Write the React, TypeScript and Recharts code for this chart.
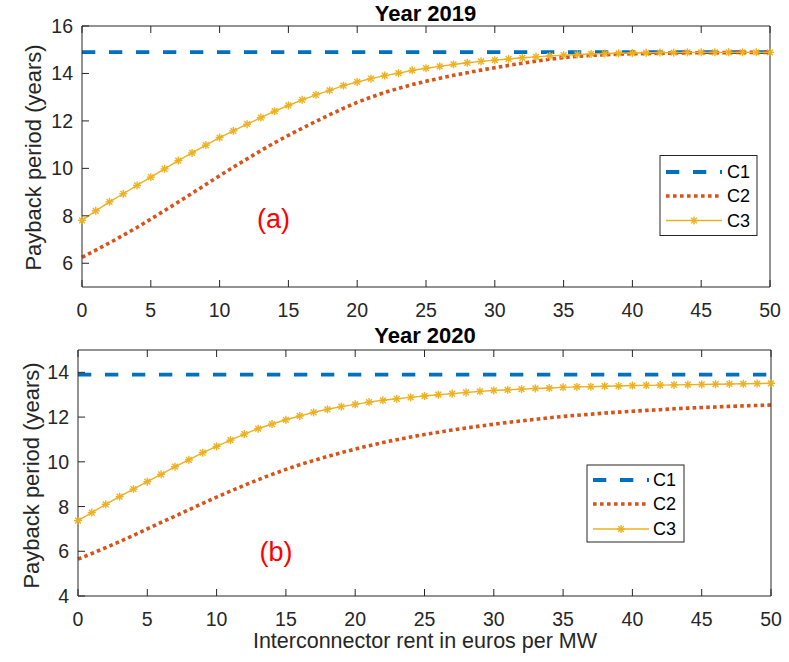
import React from "react";
import { Line, LineChart, XAxis, YAxis } from "recharts";

// interconnector rent (euros per MW)
const rent = [
  0, 1, 2, 3, 4, 5, 6, 7, 8, 9, 10, 11, 12, 13, 14, 15, 16, 17, 18, 19, 20,
  21, 22, 23, 24, 25, 26, 27, 28, 29, 30, 31, 32, 33, 34, 35, 36, 37, 38, 39,
  40, 41, 42, 43, 44, 45, 46, 47, 48, 49, 50,
];

// payback period (years), year 2019
const c1_2019 = [
  14.9, 14.9, 14.9, 14.9, 14.9, 14.9, 14.9, 14.9, 14.9, 14.9, 14.9, 14.9, 14.9,
  14.9, 14.9, 14.9, 14.9, 14.9, 14.9, 14.9, 14.9, 14.9, 14.9, 14.9, 14.9, 14.9,
  14.9, 14.9, 14.9, 14.9, 14.9, 14.9, 14.9, 14.9, 14.9, 14.9, 14.9, 14.9, 14.9,
  14.9, 14.9, 14.9, 14.9, 14.9, 14.9, 14.9, 14.9, 14.9, 14.9, 14.9, 14.9,
];
const c2_2019 = [
  6.25, 6.55, 6.86, 7.18, 7.51, 7.86, 8.22, 8.58, 8.95, 9.32, 9.69, 10.05,
  10.4, 10.75, 11.08, 11.39, 11.69, 11.98, 12.26, 12.53, 12.78, 13.0, 13.2,
  13.37, 13.53, 13.67, 13.8, 13.92, 14.03, 14.14, 14.24, 14.34, 14.43, 14.52,
  14.6, 14.67, 14.72, 14.76, 14.79, 14.81, 14.83, 14.84, 14.85, 14.86, 14.87,
  14.87, 14.88, 14.88, 14.89, 14.89, 14.89,
];
const c3_2019 = [
  7.81, 8.21, 8.59, 8.93, 9.28, 9.63, 9.98, 10.33, 10.65, 10.98, 11.3, 11.58,
  11.86, 12.14, 12.41, 12.65, 12.89, 13.1, 13.29, 13.49, 13.64, 13.78, 13.91,
  14.01, 14.13, 14.22, 14.3, 14.38, 14.45, 14.51, 14.56, 14.61, 14.66, 14.7,
  14.74, 14.77, 14.8, 14.82, 14.84, 14.85, 14.86, 14.87, 14.88, 14.88, 14.89,
  14.89, 14.89, 14.89, 14.89, 14.89, 14.89,
];

// payback period (years), year 2020
const c1_2020 = [
  13.9, 13.9, 13.9, 13.9, 13.9, 13.9, 13.9, 13.9, 13.9, 13.9, 13.9, 13.9, 13.9,
  13.9, 13.9, 13.9, 13.9, 13.9, 13.9, 13.9, 13.9, 13.9, 13.9, 13.9, 13.9, 13.9,
  13.9, 13.9, 13.9, 13.9, 13.9, 13.9, 13.9, 13.9, 13.9, 13.9, 13.9, 13.9, 13.9,
  13.9, 13.9, 13.9, 13.9, 13.9, 13.9, 13.9, 13.9, 13.9, 13.9, 13.9, 13.9,
];
const c2_2020 = [
  5.65, 5.9, 6.16, 6.43, 6.71, 7.0, 7.29, 7.57, 7.86, 8.14, 8.42, 8.69, 8.95,
  9.2, 9.44, 9.66, 9.87, 10.06, 10.24, 10.41, 10.57, 10.72, 10.86, 10.99,
  11.11, 11.22, 11.32, 11.42, 11.51, 11.6, 11.68, 11.76, 11.83, 11.9, 11.97,
  12.03, 12.08, 12.13, 12.18, 12.22, 12.26, 12.3, 12.33, 12.37, 12.4, 12.43,
  12.45, 12.48, 12.5, 12.52, 12.54,
];
const c3_2020 = [
  7.37, 7.73, 8.1, 8.44, 8.78, 9.11, 9.44, 9.78, 10.09, 10.41, 10.69, 10.97,
  11.24, 11.48, 11.69, 11.88, 12.05, 12.21, 12.35, 12.47, 12.57, 12.67, 12.75,
  12.82, 12.88, 12.94, 13.0, 13.05, 13.1, 13.15, 13.19, 13.22, 13.25, 13.28,
  13.3, 13.33, 13.35, 13.36, 13.38, 13.39, 13.41, 13.42, 13.43, 13.44, 13.45,
  13.46, 13.47, 13.48, 13.49, 13.5, 13.51,
];

const xTicks = [0, 5, 10, 15, 20, 25, 30, 35, 40, 45, 50];
const yTicks2019 = [6, 8, 10, 12, 14, 16];
const yTicks2020 = [4, 6, 8, 10, 12, 14];
const seriesNames = ["C1", "C2", "C3"];

const data2019 = rent.map((r, i) => ({
  rent: r,
  C1: c1_2019[i],
  C2: c2_2019[i],
  C3: c3_2019[i],
}));
const data2020 = rent.map((r, i) => ({
  rent: r,
  C1: c1_2020[i],
  C2: c2_2020[i],
  C3: c3_2020[i],
}));

const FONT = "'Liberation Sans', Arial, Helvetica, sans-serif";
const AX = "#262626";
const BLUE = "#0072BD";
const ORANGE = "#D95319";
const YELLOW = "#EDB120";

const BottomTick = (p: any) => (
  <g>
    <line x1={p.x} x2={p.x} y1={p.y} y2={p.y - 7} stroke={AX} />
    <text
      x={p.x}
      y={p.y + 22.5}
      textAnchor="middle"
      dominantBaseline="central"
      fontSize={19.5}
      fontFamily={FONT}
      fill={AX}
    >
      {p.payload.value}
    </text>
  </g>
);
const TopTick = (p: any) => (
  <line x1={p.x} x2={p.x} y1={p.y} y2={p.y + 7} stroke={AX} />
);
const LeftTick = (p: any) => (
  <g>
    <line x1={p.x} x2={p.x + 7} y1={p.y} y2={p.y} stroke={AX} />
    <text
      x={p.x - 9}
      y={p.y}
      textAnchor="end"
      dominantBaseline="central"
      fontSize={19.5}
      fontFamily={FONT}
      fill={AX}
    >
      {p.payload.value}
    </text>
  </g>
);
const RightTick = (p: any) => (
  <line x1={p.x} x2={p.x - 7} y1={p.y} y2={p.y} stroke={AX} />
);

// matlab '*' marker
const star = (cx: number, cy: number, key?: any) => {
  const r = 4;
  const d = r * 0.72;
  return (
    <g key={key} stroke={YELLOW} strokeWidth={1.4}>
      <line x1={cx - r} x2={cx + r} y1={cy} y2={cy} />
      <line x1={cx} x2={cx} y1={cy - r} y2={cy + r} />
      <line x1={cx - d} x2={cx + d} y1={cy - d} y2={cy + d} />
      <line x1={cx - d} x2={cx + d} y1={cy + d} y2={cy - d} />
    </g>
  );
};
const renderStar = (p: any) => star(p.cx, p.cy, `s${p.index}`);

// axes get 1px of room each, so margins are the plot box minus 1
function Panel({ data, yDomain, yTicks, height, box }: any) {
  const margin = {
    top: box.top - 1,
    right: 789 - box.right - 1,
    bottom: height - box.bottom - 1,
    left: box.left - 1,
  };
  return (
    <LineChart width={789} height={height} data={data} margin={margin}>
      <XAxis
        xAxisId="b"
        dataKey="rent"
        type="number"
        domain={[0, 50]}
        ticks={xTicks}
        interval={0}
        height={1}
        tickSize={0}
        tickMargin={0}
        tick={BottomTick}
        axisLine={{ stroke: AX }}
      />
      <XAxis
        xAxisId="t"
        orientation="top"
        dataKey="rent"
        type="number"
        domain={[0, 50]}
        ticks={xTicks}
        interval={0}
        height={1}
        tickSize={0}
        tickMargin={0}
        tick={TopTick}
        axisLine={{ stroke: AX }}
      />
      <YAxis
        yAxisId="l"
        type="number"
        domain={yDomain}
        ticks={yTicks}
        interval={0}
        width={1}
        tickSize={0}
        tickMargin={0}
        tick={LeftTick}
        axisLine={{ stroke: AX }}
      />
      <YAxis
        yAxisId="r"
        orientation="right"
        type="number"
        domain={yDomain}
        ticks={yTicks}
        interval={0}
        width={1}
        tickSize={0}
        tickMargin={0}
        tick={RightTick}
        axisLine={{ stroke: AX }}
      />
      <Line
        xAxisId="b"
        yAxisId="l"
        dataKey="C1"
        stroke={BLUE}
        strokeWidth={3.8}
        strokeDasharray="13.3 13.7"
        dot={false}
        isAnimationActive={false}
      />
      <Line
        xAxisId="b"
        yAxisId="l"
        dataKey="C2"
        stroke={ORANGE}
        strokeWidth={3.6}
        strokeDasharray="3.6 3.2"
        dot={false}
        isAnimationActive={false}
      />
      <Line
        xAxisId="b"
        yAxisId="l"
        dataKey="C3"
        stroke={YELLOW}
        strokeWidth={1.4}
        dot={renderStar}
        isAnimationActive={false}
      />
    </LineChart>
  );
}

function LegendBox({ x, y, w, h, rows, lx, tx }: any) {
  const x2 = lx + 56;
  return (
    <g>
      <rect x={x} y={y} width={w} height={h} fill="#fff" stroke={AX} />
      <line x1={lx} x2={x2} y1={rows[0]} y2={rows[0]} stroke={BLUE} strokeWidth={3.8} strokeDasharray="13.3 13.7" />
      <line x1={lx} x2={x2} y1={rows[1]} y2={rows[1]} stroke={ORANGE} strokeWidth={3.6} strokeDasharray="3.6 3.4" />
      <line x1={lx} x2={x2} y1={rows[2]} y2={rows[2]} stroke={YELLOW} strokeWidth={1.4} />
      {star((lx + x2) / 2, rows[2])}
      {seriesNames.map((n, i) => (
        <text key={n} x={tx} y={rows[i]} dominantBaseline="central" fontSize={18} fontFamily={FONT} fill="#000">
          {n}
        </text>
      ))}
    </g>
  );
}

export default function App() {
  return (
    <div
      style={{
        position: "absolute",
        left: 0,
        top: 0,
        width: 789,
        height: 662,
        background: "#fff",
        fontFamily: FONT,
      }}
    >
      <div style={{ position: "absolute", left: 0, top: 0 }}>
        <Panel
          data={data2019}
          yDomain={[5, 16]}
          yTicks={yTicks2019}
          height={320}
          box={{ left: 82, right: 770, top: 26, bottom: 287 }}
        />
      </div>
      <div style={{ position: "absolute", left: 0, top: 320 }}>
        <Panel
          data={data2020}
          yDomain={[4, 15]}
          yTicks={yTicks2020}
          height={342}
          box={{ left: 78, right: 771, top: 30, bottom: 276 }}
        />
      </div>
      <svg
        width={789}
        height={662}
        style={{ position: "absolute", left: 0, top: 0, pointerEvents: "none" }}
      >
        <text x={425.5} y={21} textAnchor="middle" fontSize={22} fontWeight="bold" fontFamily={FONT}>
          Year 2019
        </text>
        <text x={425} y={343} textAnchor="middle" fontSize={22} fontWeight="bold" fontFamily={FONT}>
          Year 2020
        </text>
        <text
          transform="translate(33,157.5) rotate(-90)"
          textAnchor="middle"
          dominantBaseline="central"
          fontSize={22}
          fontFamily={FONT}
          fill={AX}
        >
          Payback period (years)
        </text>
        <text
          transform="translate(31,475.5) rotate(-90)"
          textAnchor="middle"
          dominantBaseline="central"
          fontSize={22}
          fontFamily={FONT}
          fill={AX}
        >
          Payback period (years)
        </text>
        <text x={425} y={648} textAnchor="middle" fontSize={21.5} fontFamily={FONT} fill={AX}>
          Interconnector rent in euros per MW
        </text>
        <text x={273.5} y={219} textAnchor="middle" dominantBaseline="central" fontSize={27} fontFamily={FONT} fill="#FF0000">
          (a)
        </text>
        <text x={276} y={552} textAnchor="middle" dominantBaseline="central" fontSize={27} fontFamily={FONT} fill="#FF0000">
          (b)
        </text>
        <LegendBox x={660} y={155.5} w={97} h={80} rows={[172, 196, 220.5]} lx={666} tx={727} />
        <LegendBox x={587} y={465} w={97} h={77} rows={[480, 504, 529]} lx={593} tx={653} />
      </svg>
    </div>
  );
}
